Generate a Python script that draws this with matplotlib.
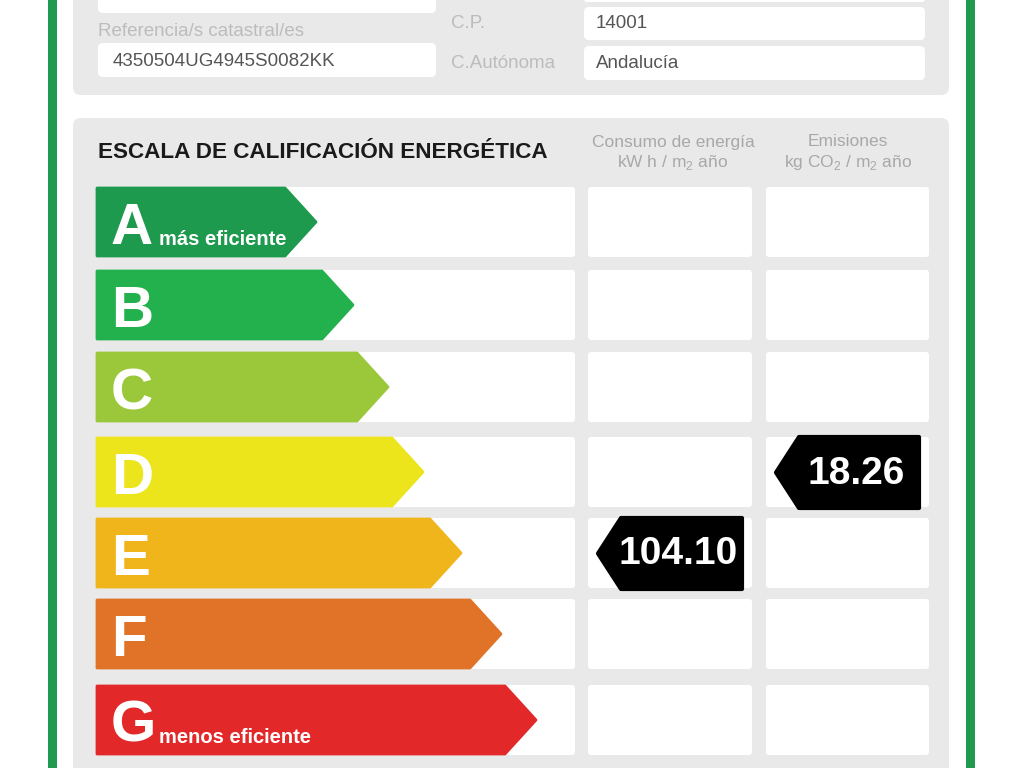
import matplotlib
matplotlib.use("Agg")
import matplotlib.pyplot as plt
from matplotlib.patches import FancyBboxPatch, Polygon, Rectangle

plt.rcParams['font.family'] = ['Liberation Sans', 'DejaVu Sans']
plt.rcParams['mathtext.fontset'] = 'custom'
plt.rcParams['mathtext.rm'] = 'Liberation Sans'

# data
grades = ['A', 'B', 'C', 'D', 'E', 'F', 'G']
grade_colors = ['#1e9a4e', '#22b14c', '#9bc83b', '#ece51c', '#f0b51b', '#e07328', '#e3282a']
grade_notes = {'A': 'más eficiente', 'G': 'menos eficiente'}
consumo_value = 104.10
consumo_grade = 'E'
emisiones_value = 18.26
emisiones_grade = 'D'
ref_catastral = '4350504UG4945S0082KK'
cp = '14001'
comunidad = 'Andalucía'

# layout (pixels)
row_tops = [187, 270, 352, 437, 518, 599, 685]
row_h = 70
arrow_tips = [317, 354, 389, 424, 462, 502, 537]
GRAY = '#e9e9e9'
BORDER = '#1f9a4f'

fig = plt.figure(figsize=(10.24, 7.68), dpi=100)
ax = fig.add_axes([0, 0, 1, 1])
ax.set_xlim(0, 1024)
ax.set_ylim(768, 0)
ax.axis('off')


def rbox(x0, y0, x1, y1, color, r=6, z=1):
    ax.add_patch(FancyBboxPatch((x0, y0), x1 - x0, y1 - y0,
                                boxstyle=f"round,pad=0,rounding_size={r}",
                                fc=color, ec='none', zorder=z))


# green frame
ax.add_patch(Rectangle((48, -5), 9, 780, fc=BORDER, ec='none'))
ax.add_patch(Rectangle((966, -5), 9, 780, fc=BORDER, ec='none'))

# top panel
rbox(73, -20, 949, 95, GRAY, r=8)
rbox(98, -10, 436, 13, 'white', r=5, z=2)
rbox(584, -10, 925, 2, 'white', r=3, z=2)
rbox(584, 7, 925, 40, 'white', r=5, z=2)
rbox(98, 43, 436, 77, 'white', r=5, z=2)
rbox(584, 46, 925, 80, 'white', r=5, z=2)
lbl = '#bcbcbc'
val = '#555555'
ax.text(98, 31, 'Referencia/s catastral/es', fontsize=13.5, color=lbl, va='center', zorder=3)
ax.text(113, 62, ref_catastral, fontsize=13.5, color=val, va='center', zorder=3)
ax.text(451, 23, 'C.P.', fontsize=13.5, color=lbl, va='center', zorder=3)
ax.text(451, 64, 'C.Autónoma', fontsize=13.5, color=lbl, va='center', zorder=3)
ax.text(596, 23, cp, fontsize=13.5, color=val, va='center', zorder=3)
ax.text(596, 64, comunidad, fontsize=13.5, color=val, va='center', zorder=3)

# scale panel
rbox(73, 118, 949, 800, GRAY, r=8)
ax.text(98, 153, 'ESCALA DE CALIFICACIÓN ENERGÉTICA', fontsize=16.2,
        fontweight='bold', color='#1a1a1a', va='center', zorder=3)
hdr = '#a8a8a8'
ax.text(673, 142, 'Consumo de energía', fontsize=12.5, color=hdr, ha='center', va='center', zorder=3)
ax.text(673, 162, r'kW h / m$_\mathrm{2}$ año', fontsize=12.5, color=hdr, ha='center', va='center', zorder=3)
ax.text(848, 142, 'Emisiones', fontsize=12.5, color=hdr, ha='center', va='center', zorder=3)
ax.text(848, 162, r'kg CO$_\mathrm{2}$ / m$_\mathrm{2}$ año', fontsize=12.5, color=hdr, ha='center', va='center', zorder=3)

depth = 32
for g, col, top, tip in zip(grades, grade_colors, row_tops, arrow_tips):
    bot = top + row_h
    mid = top + row_h / 2
    rbox(96, top, 575, bot, 'white', r=3, z=2)
    rbox(588, top, 752, bot, 'white', r=3, z=2)
    rbox(766, top, 929, bot, 'white', r=3, z=2)
    ax.add_patch(Polygon([(97, top + 1), (tip - depth, top + 1), (tip - 1, mid),
                          (tip - depth, bot - 1), (97, bot - 1)],
                         closed=True, fc=col, ec=col, lw=2, joinstyle='round', zorder=3))
    ax.text(111, bot - 13, g, fontsize=42, fontweight='bold', color='white',
            va='baseline', ha='left', zorder=4)
    if g in grade_notes:
        ax.text(159, bot - 12, grade_notes[g], fontsize=14.5, fontweight='bold',
                color='white', va='baseline', ha='left', zorder=4)


def badge(value, grade, x_tip, x_right):
    i = grades.index(grade)
    top = row_tops[i] - 1
    bot = top + row_h + 3
    mid = (top + bot) / 2
    ax.add_patch(Polygon([(x_tip + 1, mid), (x_tip + 24, top + 1), (x_right - 1, top + 1),
                          (x_right - 1, bot - 1), (x_tip + 24, bot - 1)],
                         closed=True, fc='black', ec='black', lw=3, joinstyle='round', zorder=5))
    ax.text((x_tip + 17 + x_right) / 2, mid + 1, f'{value:.2f}', fontsize=28,
            fontweight='bold', color='white', ha='center', va='center', zorder=6)


badge(consumo_value, consumo_grade, 597, 743)
badge(emisiones_value, emisiones_grade, 775, 920)

fig.savefig('out.png', dpi=100)
